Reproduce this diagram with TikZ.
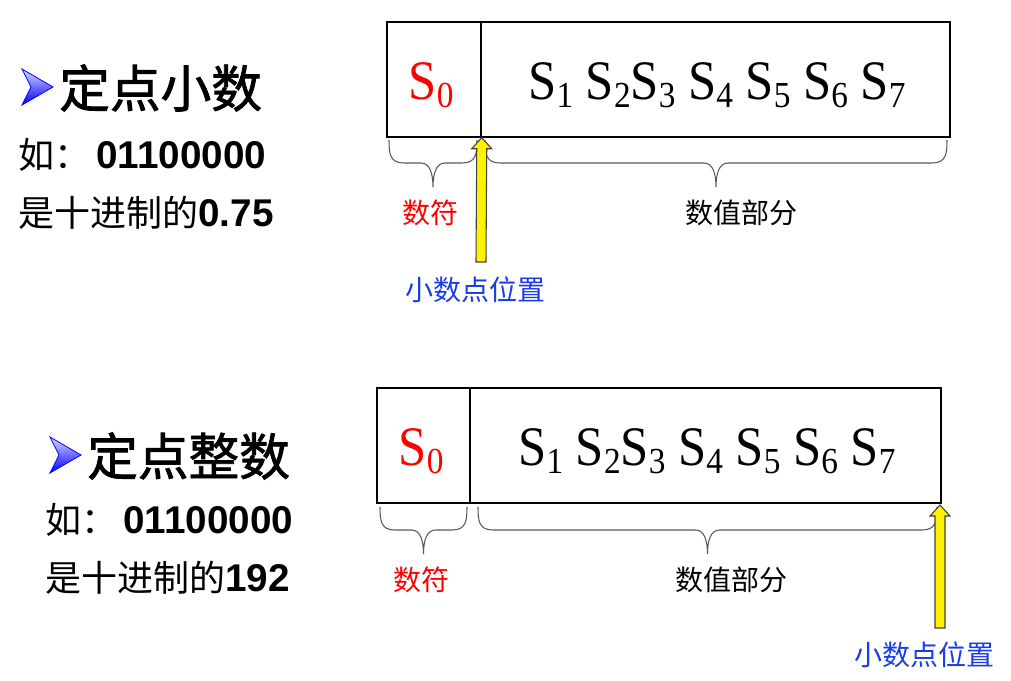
\documentclass[tikz,border=0pt]{standalone}
\usepackage{fontspec}
\usepackage{graphicx}
\setmainfont{Liberation Serif}
\newfontfamily\cjk{Noto Sans CJK SC}
\newfontfamily\cjkb{Noto Sans CJK SC}[FakeBold=1.6]
\newfontfamily\sansb{Liberation Sans Bold}
\usetikzlibrary{calc}

\definecolor{ptblue}{RGB}{25,60,235}

\tikzset{
  cell/.style={draw, line width=1.1pt, inner sep=0pt, minimum height=86.25pt},
  bits/.style={inner sep=0pt, font=\fontsize{38}{38}\selectfont},
  title/.style={anchor=west, inner sep=0pt, font=\cjkb\fontsize{38}{38}\selectfont},
  line/.style={anchor=west, inner sep=0pt, font=\cjk\fontsize{27}{27}\selectfont},
  lbl/.style={inner sep=0pt, font=\cjk\fontsize{21}{21}\selectfont},
  bracestyle/.style={draw=black!65, line width=0.8pt},
  ptarrow/.style={draw=black!75, line width=0.8pt, fill=yellow}
}

\newcommand{\sub}[1]{\raisebox{-5.5pt}{\fontsize{25}{25}\selectfont #1}}
\newcommand{\tall}[1]{\scalebox{1}[1.1]{#1}}
\newcommand{\digits}[1]{{\sansb\fontsize{29}{29}\selectfont #1}}

% curly brace under a field, from #1 to #2 (same height)
\newcommand{\fieldbrace}[2]{%
  \draw[bracestyle] (#1) .. controls +(0,14) and +(-14,0) .. ($(#1)+(15,23)$)
    -- ($(#1)!0.5!(#2)+(-12,23)$) .. controls +(9,0) and +(0,-13) .. ($(#1)!0.5!(#2)+(0,47)$)
    .. controls +(0,-13) and +(-9,0) .. ($(#1)!0.5!(#2)+(12,23)$)
    -- ($(#2)+(-15,23)$) .. controls +(14,0) and +(0,14) .. (#2);}
% block arrow, tip #1, tail #2
\newcommand{\pointarrow}[2]{%
  \draw[ptarrow] ($(#2)+(-5,0)$) -- ($(#1)+(-5,11)$) -- ($(#1)+(-10,11)$) -- (#1)
    -- ($(#1)+(10,11)$) -- ($(#1)+(5,11)$) -- ($(#2)+(5,0)$) -- cycle;}
% blue bullet
\newcommand{\bulletmark}[1]{%
  \shade[top color=blue!15, bottom color=blue, draw=blue, line width=0.6pt, shift={(#1)}]
    (0,-18) -- (31,0) -- (0,18) -- (9,0) -- cycle;}

\begin{document}
\begin{tikzpicture}[x=0.75pt, y=-0.75pt]
  \useasboundingbox (0,0) rectangle (1011,681);

  % fixed point fraction
  \bulletmark{22,87}
  \node[title] (fracT) at (59,88) {定点小数};
  \node[line] (fracEx) at (18,155) {如：\,\digits{01100000}};
  \node[line] (fracVal) at (18,213) {是十进制的\digits{0.75}};

  \node[cell, minimum width=70.5pt] (sgnA) at (434,79.5) {};
  \node[cell, minimum width=351.75pt] (valA) at (715.5,79.5) {};
  \node[bits, text=red] (sA) at (431,85) {\tall{S\sub{0}}};
  \node[bits] (mA) at (717,85)
    {\tall{S\sub{1} S\sub{2}S\sub{3} S\sub{4} S\sub{5} S\sub{6} S\sub{7}}};

  \coordinate (bA1) at (389,140);
  \coordinate (bA2) at (477,140);
  \coordinate (bA3) at (485,140);
  \coordinate (bA4) at (947,140);
  \fieldbrace{bA1}{bA2}
  \fieldbrace{bA3}{bA4}

  \node[lbl, text=red] (signA) at (430,213) {数符};
  \node[lbl] (magA) at (741,213) {数值部分};
  \node[lbl, text=ptblue] (pointA) at (475,290) {小数点位置};
  \coordinate (tailA) at (481,262);
  \pointarrow{sgnA.south east}{tailA}

  % fixed point integer
  \bulletmark{50,455}
  \node[title] (intT) at (87,456) {定点整数};
  \node[line] (intEx) at (45,520) {如：\,\digits{01100000}};
  \node[line] (intVal) at (45,578) {是十进制的\digits{192}};

  \node[cell, minimum width=69.75pt] (sgnB) at (423.5,445.5) {};
  \node[cell, minimum width=353.25pt] (valB) at (705.5,445.5) {};
  \node[bits, text=red] (sB) at (421,451) {\tall{S\sub{0}}};
  \node[bits] (mB) at (707,451)
    {\tall{S\sub{1} S\sub{2}S\sub{3} S\sub{4} S\sub{5} S\sub{6} S\sub{7}}};

  \coordinate (bB1) at (380,507);
  \coordinate (bB2) at (467,507);
  \coordinate (bB3) at (478,507);
  \coordinate (bB4) at (937,507);
  \fieldbrace{bB1}{bB2}
  \fieldbrace{bB3}{bB4}

  \node[lbl, text=red] (signB) at (421,580) {数符};
  \node[lbl] (magB) at (731,580) {数值部分};
  \node[lbl, text=ptblue] (pointB) at (924,655) {小数点位置};
  \coordinate (tipB) at (940,505);
  \coordinate (tailB) at (940,628);
  \pointarrow{tipB}{tailB}
\end{tikzpicture}
\end{document}
